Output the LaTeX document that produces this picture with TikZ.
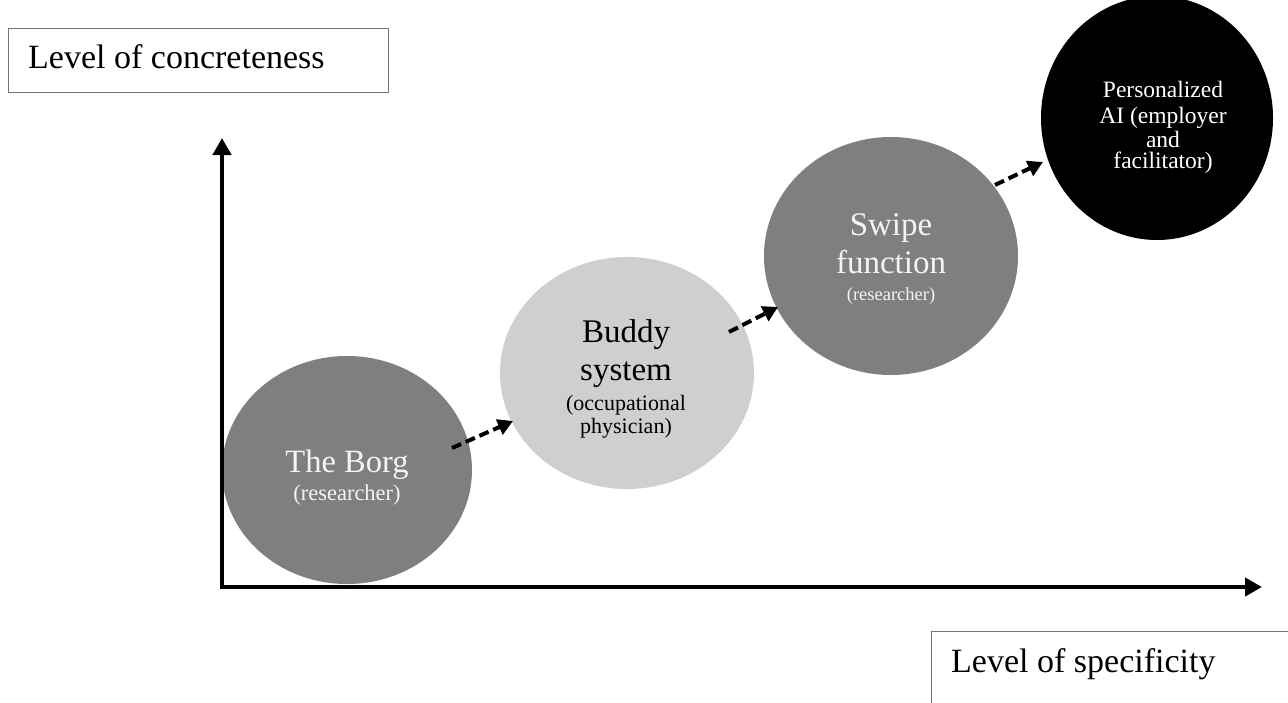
\documentclass[tikz,border=0pt]{standalone}
\usepackage{fontspec}
\setmainfont{Liberation Serif}
\usetikzlibrary{arrows.meta,shapes.geometric}
\newcommand\fsz[1]{\fontsize{#1pt}{#1pt}\selectfont}
\definecolor{midgray}{HTML}{7F7F7F}
\definecolor{palegray}{HTML}{D0CECF}
\definecolor{softwhite}{HTML}{F4F4F4}
\begin{document}
\begin{tikzpicture}[x=1pt,y=-1pt,
  bubble/.style={ellipse, inner sep=0pt, draw=none},
  lbl/.style={anchor=base, inner sep=0pt},
  flow/.style={line width=4pt, dash pattern=on 10pt off 5pt, -{Triangle[length=15pt,width=16pt]}},
  axisline/.style={line width=4.5pt, line join=miter, {Triangle[length=17pt,width=18pt]}-{Triangle[length=17pt,width=18pt]}},
  frame/.style={draw=black!55, line width=1.2pt, inner sep=0pt}
]
\useasboundingbox (0,0) rectangle (1288,702);
\fill[white] (0,0) rectangle (1288,702);

% label boxes
\node[frame, anchor=north west, minimum width=380pt, minimum height=64pt] (ybox) at (8,28) {};
\node[lbl, anchor=base west] (ytxt) at (28,68) {\fsz{34}Level of concreteness};
\node[frame, anchor=north west, minimum width=420pt, minimum height=120pt] (xbox) at (931,631) {};
\node[lbl, anchor=base west] (xtxt) at (951,672) {\fsz{34}Level of specificity};

% bubbles
\node[bubble, fill=midgray, minimum width=250pt, minimum height=228pt] (borg) at (347,470) {};
\node[bubble, fill=palegray, minimum width=254pt, minimum height=232pt] (buddy) at (627,373) {};
\node[bubble, fill=midgray, minimum width=254pt, minimum height=238pt] (swipe) at (891,256) {};
\node[bubble, fill=black, minimum width=232pt, minimum height=244pt] (pai) at (1157,118) {};

% bubble texts
\node[lbl, text=softwhite] (borg1) at (347,472) {\fsz{32.5}The Borg};
\node[lbl, text=softwhite] (borg2) at (347,500) {\fsz{22.5}(researcher)};

\node[lbl] (buddy1) at (626,342) {\fsz{33}Buddy};
\node[lbl] (buddy2) at (626,380) {\fsz{33}system};
\node[lbl] (buddy3) at (626,410) {\fsz{22}(occupational};
\node[lbl] (buddy4) at (626,433) {\fsz{22}physician)};

\node[lbl, text=softwhite] (swipe1) at (891,235) {\fsz{33}Swipe};
\node[lbl, text=softwhite] (swipe2) at (891,273) {\fsz{33}function};
\node[lbl, text=softwhite] (swipe3) at (891,300) {\fsz{18.5}(researcher)};

\node[lbl, text=white] (pai1) at (1163,97) {\fsz{23.5}Personalized};
\node[lbl, text=white] (pai2) at (1163,123) {\fsz{23.5}AI (employer};
\node[lbl, text=white] (pai3) at (1163,147) {\fsz{23.5}and};
\node[lbl, text=white] (pai4) at (1163,168) {\fsz{23.5}facilitator)};

% axes
\coordinate (ytip) at (222,138);
\coordinate (xtip) at (1262,587);
\draw[axisline] (ytip) |- (xtip);

% flow arrows
\coordinate (f1s) at (452,448);
\coordinate (f1e) at (513,421);
\coordinate (f2s) at (729,332);
\coordinate (f2e) at (778,307);
\coordinate (f3s) at (995,185);
\coordinate (f3e) at (1043,162);
\draw[flow] (f1s) -- (f1e);
\draw[flow] (f2s) -- (f2e);
\draw[flow] (f3s) -- (f3e);
\end{tikzpicture}
\end{document}
